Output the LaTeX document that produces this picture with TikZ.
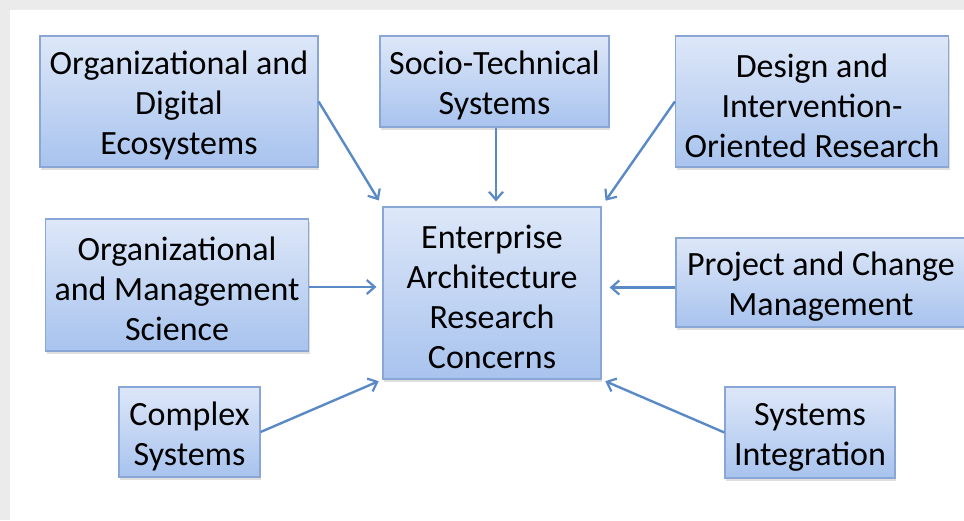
\documentclass[tikz,border=0pt]{standalone}
\usepackage{fontspec}
\setmainfont{Carlito}
\usetikzlibrary{arrows.meta,shadows,calc}
\definecolor{boxtop}{HTML}{DDE7F8}
\definecolor{boxbot}{HTML}{A8C3EE}
\definecolor{boxline}{HTML}{8AA6D4}
\definecolor{arrowc}{HTML}{5A8AC6}
\definecolor{frame}{HTML}{EBEBEB}
\newcommand{\toppad}{\mbox{}\\[-8pt]}
\begin{document}
\begin{tikzpicture}[x=1pt,y=-1pt,
  boxnode/.style={draw=boxline,line width=1.2pt,top color=boxtop,bottom color=boxbot,
    align=center,inner sep=0pt,font=\fontsize{34}{40}\selectfont,text=black,
    drop shadow={shadow xshift=1pt,shadow yshift=-3pt,opacity=0.25}},
  arr/.style={draw=arrowc,line width=2.4pt,-{Straight Barb[length=8pt,width=14pt,line width=2.2pt]}}]
\useasboundingbox (0,0) rectangle (964,520);
\fill[frame] (0,0) rectangle (964,520);
\fill[white] (10,10) rectangle (964,520);

\node[boxnode,minimum width=278pt,minimum height=131pt] (ode) at (179,101.5) {\toppad Organizational and\\Digital\\Ecosystems};
\node[boxnode,minimum width=229pt,minimum height=91pt] (stc) at (494.5,81.5) {\toppad Socio-Technical\\Systems};
\node[boxnode,minimum width=273pt,minimum height=131pt] (dio) at (812,101.5) {\toppad Design and\\Intervention-\\Oriented Research};
\node[boxnode,minimum width=263pt,minimum height=132pt] (oms) at (177,285) {\toppad Organizational\\and Management\\Science};
\node[boxnode,minimum width=218pt,minimum height=172pt] (ear) at (492,293) {\toppad Enterprise\\Architecture\\Research\\Concerns};
\node[boxnode,minimum width=290pt,minimum height=89pt] (pcm) at (821,282.5) {\toppad Project and Change\\Management};
\node[boxnode,minimum width=141pt,minimum height=90pt] (cs) at (189.5,432) {\toppad Complex\\Systems};
\node[boxnode,minimum width=170pt,minimum height=91pt] (si) at (810,432.5) {\toppad Systems\\Integration};

\draw[arr,shorten >=7pt] (ode.east) -- (ear.north west);
\draw[arr,shorten >=5pt] ([xshift=1.5pt]stc.south) -- ([xshift=1.5pt]stc.south |- ear.north);
\draw[arr,shorten >=7pt] (dio.west) -- (ear.north east);
\draw[arr,shorten >=6pt] ([yshift=-2pt]oms.east) -- ([yshift=-2pt]oms.east -| ear.west);
\draw[arr,shorten >=8pt] ([yshift=-5pt]pcm.west) -- ([yshift=-5pt]pcm.west -| ear.east);
\draw[arr,shorten >=4pt] (cs.east) -- (ear.south west);
\draw[arr,shorten >=4pt] (si.west) -- (ear.south east);
\end{tikzpicture}
\end{document}
